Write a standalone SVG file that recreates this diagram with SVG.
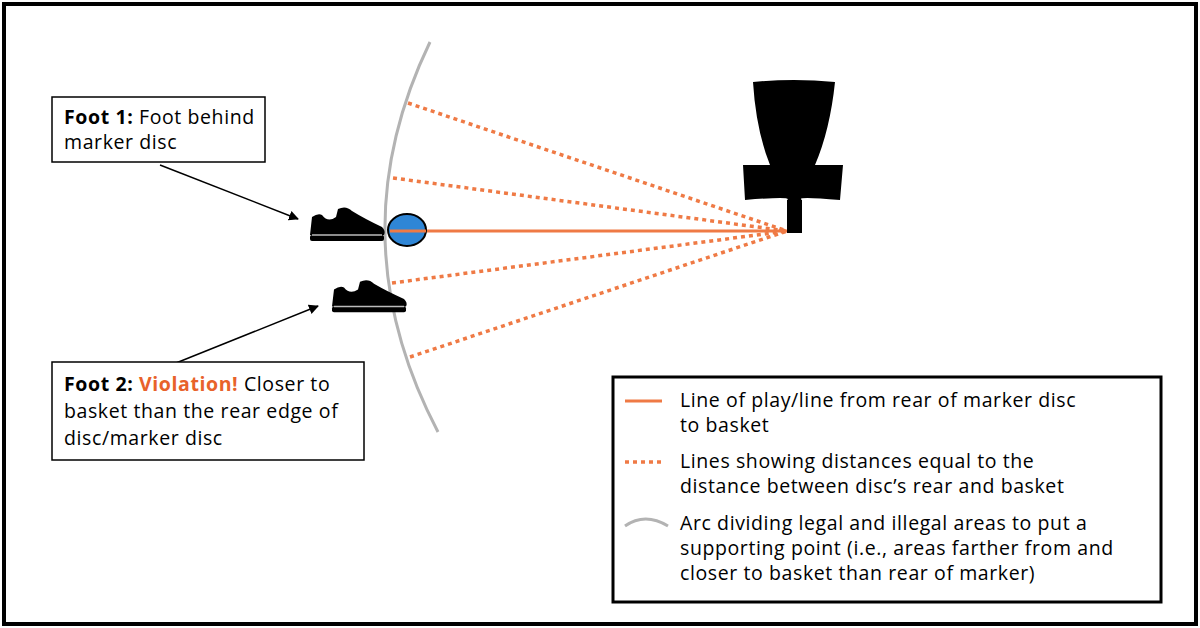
<svg xmlns="http://www.w3.org/2000/svg" width="1200" height="628" viewBox="0 0 1200 628">
<style>
text{font-family:"Open Sans","Liberation Sans",sans-serif;font-size:19.5px;letter-spacing:0.6px;fill:#000}
.b{font-weight:bold}.o{fill:#e8622a}
.dot{stroke:#ef7a45;stroke-width:3.5;stroke-dasharray:4 4;fill:none}
.box{fill:#fff;stroke:#000;stroke-width:1.5}
</style>
<defs>
<marker id="ah" markerWidth="10" markerHeight="10" refX="9" refY="5" orient="auto" markerUnits="userSpaceOnUse"><path d="M0,0L10,5L0,10z"/></marker>
<g id="shoe"><path d="M0,30 L2,12 Q8,8 12,10 Q18,18 26,12 L28,4 Q36,0 42,6 Q55,14 72,22 Q76,26 74,30 Z" fill="#000"/><rect x="0" y="30" width="74" height="6" rx="2"/><path d="M2,30 L72,30" stroke="#bbb" stroke-width="1.5"/></g>
</defs>
<rect x="4" y="4" width="1192" height="620" fill="#fff" stroke="#000" stroke-width="4"/>
<g id="arc"><path d="M430,42 Q336,237 438,432" fill="none" stroke="#b3b3b3" stroke-width="3"/></g>
<g id="connectors">
<path class="dot" d="M408,103L787,231M393,178L787,231M392,283L787,231M410,357L787,231"/>
<path d="M390,231L787,231" stroke="#ef7a45" stroke-width="3"/>
<path d="M160,165L298,219" stroke="#000" stroke-width="1.5" marker-end="url(#ah)"/>
<path d="M176,363L318,306" stroke="#000" stroke-width="1.5" marker-end="url(#ah)"/>
</g>
<g id="basket"><path d="M753,82Q794,78 835,82Q830,130 815,165L843,165L840,200Q794,196 802,200L802,233L787,233L787,200Q794,196 745,200L743,165L770,165Q756,130 753,82Z"/></g>
<g id="shoe1"><use href="#shoe" transform="translate(310,205)"/></g>
<g id="shoe2"><use href="#shoe" transform="translate(332,278) scale(1,0.95)"/></g>
<g id="disc"><ellipse cx="407" cy="230" rx="19" ry="16" fill="#2f86d6" stroke="#000" stroke-width="2"/><path d="M390,231L426,231" stroke="#ef7a45" stroke-width="3"/></g>
<g id="foot1"><rect class="box" x="52" y="97" width="213" height="65"/><text x="64" y="124"><tspan class="b">Foot 1:</tspan> Foot behind</text><text x="64" y="149">marker disc</text></g>
<g id="foot2"><rect class="box" x="52" y="362" width="312" height="98"/><text x="64" y="391"><tspan class="b">Foot 2: </tspan><tspan class="b o">Violation!</tspan> Closer to</text><text x="64" y="418">basket than the rear edge of</text><text x="64" y="445">disc/marker disc</text></g>
<g id="legend"><rect x="613" y="377" width="548" height="225" fill="#fff" stroke="#000" stroke-width="3"/>
<path d="M625,401L662,401" stroke="#ef7a45" stroke-width="3"/>
<path class="dot" d="M625,462L662,462"/>
<path d="M625,526Q645,512 668,526" fill="none" stroke="#b3b3b3" stroke-width="3"/>
<text x="680" y="407">Line of play/line from rear of marker disc</text><text x="680" y="432">to basket</text>
<text x="680" y="468">Lines showing distances equal to the</text><text x="680" y="493">distance between disc’s rear and basket</text>
<text x="680" y="530">Arc dividing legal and illegal areas to put a</text><text x="680" y="555">supporting point (i.e., areas farther from and</text><text x="680" y="580">closer to basket than rear of marker)</text></g>
</svg>
